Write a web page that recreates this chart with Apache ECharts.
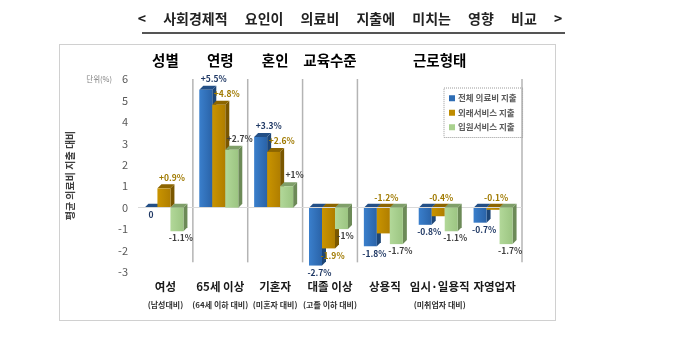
<!DOCTYPE html>
<html><head><meta charset="utf-8">
<script src="https://cdn.jsdelivr.net/npm/echarts@6/dist/echarts.min.js"></script>
<style>html,body{margin:0;padding:0;background:#fff}#c{width:700px;height:337px}</style>
</head><body><div id="c"></div>
<script>
// ---- data ----
const categories = ['여성', '65세 이상', '기혼자', '대졸 이상', '상용직', '임시·일용직', '자영업자'];
const subLabels = ['(남성대비)', '(64세 이하 대비)', '(미혼자 대비)', '(고졸 이하 대비)', '', '(미취업자 대비)', ''];
const headers = ['성별', '연령', '혼인', '교육수준', '', '근로형태', ''];
const seriesNames = ['전체 의료비 지출', '외래서비스 지출', '입원서비스 지출'];
const totalSpend = [0, 5.5, 3.3, -2.7, -1.8, -0.8, -0.7];
const outpatientSpend = [0.9, 4.8, 2.6, -1.9, -1.2, -0.4, -0.1];
const inpatientSpend = [-1.1, 2.7, 1, -1, -1.7, -1.1, -1.7];
const groupBoundaries = [0, 1, 2, 3, 6];
const yTicks = { min: -3, max: 6, interval: 1 };
const yAxisTitle = '평균 의료비 지출 대비';
const unitLabel = '단위(%)';
const titleWords = ['<', '사회경제적', '요인이', '의료비', '지출에', '미치는', '영향', '비교', '>'];

// ---- styles ----
const allSeries = [totalSpend, outpatientSpend, inpatientSpend];
const palette = [
  { front: ['#3A7FCC', '#2A63A8'], side: '#1D4677', top: '#234F86', label: '#1F3864', legend: '#2E6DB5' },
  { front: ['#C99400', '#B07E00'], side: '#7A5700', top: '#8C6500', label: '#A07A00', legend: '#BF8C00' },
  { front: ['#B2D899', '#9CC582'], side: '#6C8A57', top: '#7F9F69', label: '#3F3F3F', legend: '#A9D18E' }
];
const FONT = '"Noto Sans CJK KR", "Noto Sans", sans-serif';

function fmt(v) {
  if (v === 0) return '0';
  return (v > 0 ? '+' : '') + v + '%';
}

function makeBarSeries(si) {
  const data = allSeries[si].map((v, i) => [i, v]);
  const c = palette[si];
  return {
    type: 'custom',
    name: seriesNames[si],
    itemStyle: { color: c.legend },
    data: data,
    encode: { x: 0, y: 1 },
    z: 3 + si,
    renderItem: function (params, api) {
      const ci = api.value(0), v = api.value(1);
      const base = api.coord([ci, 0]);
      const end = api.coord([ci, v]);
      const band = api.size([1, 0])[0];
      const bw = band * 0.237;
      const d = 4;
      const x0 = base[0] - 1.5 * bw + si * bw - 1.5;
      const yTop = Math.min(base[1], end[1]);
      const yBot = Math.max(base[1], end[1]);
      const h = yBot - yTop;
      const children = [];
      children.push({ type: 'polygon', shape: { points: [[x0 + bw, yTop], [x0 + bw + d, yTop - d], [x0 + bw + d, yBot - d], [x0 + bw, yBot]] }, style: { fill: c.side } });
      children.push({ type: 'polygon', shape: { points: [[x0, yTop], [x0 + bw, yTop], [x0 + bw + d, yTop - d], [x0 + d, yTop - d]] }, style: { fill: c.top } });
      if (h > 0) {
        children.push({ type: 'rect', shape: { x: x0, y: yTop, width: bw, height: h }, style: { fill: { type: 'linear', x: 0, y: 0, x2: 1, y2: 0, colorStops: [{ offset: 0, color: c.front[0] }, { offset: 1, color: c.front[1] }] } } });
      }
      const cx = x0 + bw / 2;
      let lx, ly;
      if (v > 0) { lx = cx + 8; ly = yTop - 11; }
      else if (v === 0) { lx = cx; ly = yBot + 7; }
      else {
        lx = cx + 4; ly = yBot + 7;
        if (si === 1) {
          const a = Math.abs(allSeries[0][ci]), b = Math.abs(allSeries[2][ci]);
          if (Math.abs(v) < a && Math.abs(v) < b) { ly = base[1] - 10; lx = cx + 3; }
        }
      }
      children.push({
        type: 'text', x: lx, y: ly, z2: 10,
        style: { text: fmt(v), fill: c.label, font: '600 8.5px ' + FONT, textAlign: 'center', textVerticalAlign: 'middle', align: 'center', verticalAlign: 'middle' }
      });
      return { type: 'group', children: children };
    }
  };
}

const separatorSeries = {
  type: 'custom',
  name: 'sep',
  data: groupBoundaries.map(i => [i, 0]),
  encode: { x: 0, y: 1 },
  z: 1,
  silent: true,
  renderItem: function (params, api) {
    const i = api.value(0);
    const band = api.size([1, 0])[0];
    const x = api.coord([i, 0])[0] + band / 2;
    const y1 = api.coord([i, yTicks.max])[1];
    const y2 = api.coord([i, -2.55])[1];
    return { type: 'line', shape: { x1: x, y1: y1, x2: x, y2: y2 }, style: { stroke: '#B4B4B4', lineWidth: 1.5 } };
  },
  markLine: {
    silent: true, symbol: 'none', label: { show: false },
    lineStyle: { color: '#D9D9D9', type: 'solid', width: 1 },
    data: [{ yAxis: 0 }]
  }
};

const titleText = titleWords.join(' \u3000');

const chart = echarts.init(document.getElementById('c'), null, { renderer: 'canvas' });
chart.setOption({
  animation: false,
  backgroundColor: '#fff',
  textStyle: { fontFamily: FONT },
  grid: { left: 138, right: 178, top: 79, bottom: 65 },
  legend: {
    data: seriesNames,
    orient: 'vertical',
    left: 444, top: 88,
    padding: [6, 6, 6, 5],
    itemGap: 6,
    itemWidth: 6, itemHeight: 6,
    icon: 'rect',
    borderColor: '#9A9A9A', borderWidth: 1, borderType: 'dotted',
    textStyle: { fontSize: 8.5, color: '#595959', fontWeight: 600, fontFamily: FONT, padding: [0, 0, 0, -2] }
  },
  xAxis: [
    {
      type: 'category', data: categories, position: 'bottom',
      axisLine: { show: false, onZero: false }, axisTick: { show: false },
      axisLabel: {
        interval: 0, margin: 6,
        formatter: function (val, idx) { return '{a|' + val + '}\n{b|' + (subLabels[idx] || ' ') + '}'; },
        rich: {
          a: { fontSize: 11.5, fontWeight: 'bold', color: '#1A1A1A', lineHeight: 18, fontFamily: FONT },
          b: { fontSize: 8, fontWeight: 'bold', color: '#333', lineHeight: 18, fontFamily: FONT }
        }
      }
    },
    {
      type: 'category', data: headers, position: 'top',
      axisLine: { show: false }, axisTick: { show: false },
      axisLabel: { interval: 0, margin: 11, fontSize: 14.5, fontWeight: 'bold', color: '#000', fontFamily: FONT }
    }
  ],
  yAxis: {
    type: 'value', min: yTicks.min, max: yTicks.max, interval: yTicks.interval,
    axisLine: { show: false }, axisTick: { show: false }, splitLine: { show: false },
    name: yAxisTitle, nameLocation: 'middle', nameGap: 30, nameRotate: 90,
    nameTextStyle: { fontSize: 10, color: '#404040', fontWeight: 'bold', fontFamily: FONT },
    axisLabel: {
      margin: 10, color: '#595959', fontSize: 11,
      formatter: function (v) { return v === yTicks.max ? '{u|' + unitLabel + '}    ' + v : String(v); },
      rich: { u: { fontSize: 7.5, color: '#7F7F7F', fontFamily: FONT } }
    }
  },
  graphic: [
    { type: 'rect', left: 57, top: 42, shape: { width: 496, height: 276 }, style: { fill: 'none', stroke: '#A0A0A0', lineWidth: 1, lineDash: [1, 1] }, silent: true },
    { type: 'text', left: 'center', top: 12, style: { text: titleText, font: 'bold 14px ' + FONT, fill: '#222' } },
    { type: 'line', shape: { x1: 142, y1: 33, x2: 565, y2: 33 }, style: { stroke: '#555', lineWidth: 2 } }
  ],
  series: [separatorSeries, makeBarSeries(0), makeBarSeries(1), makeBarSeries(2)]
});
</script>
</body></html>
